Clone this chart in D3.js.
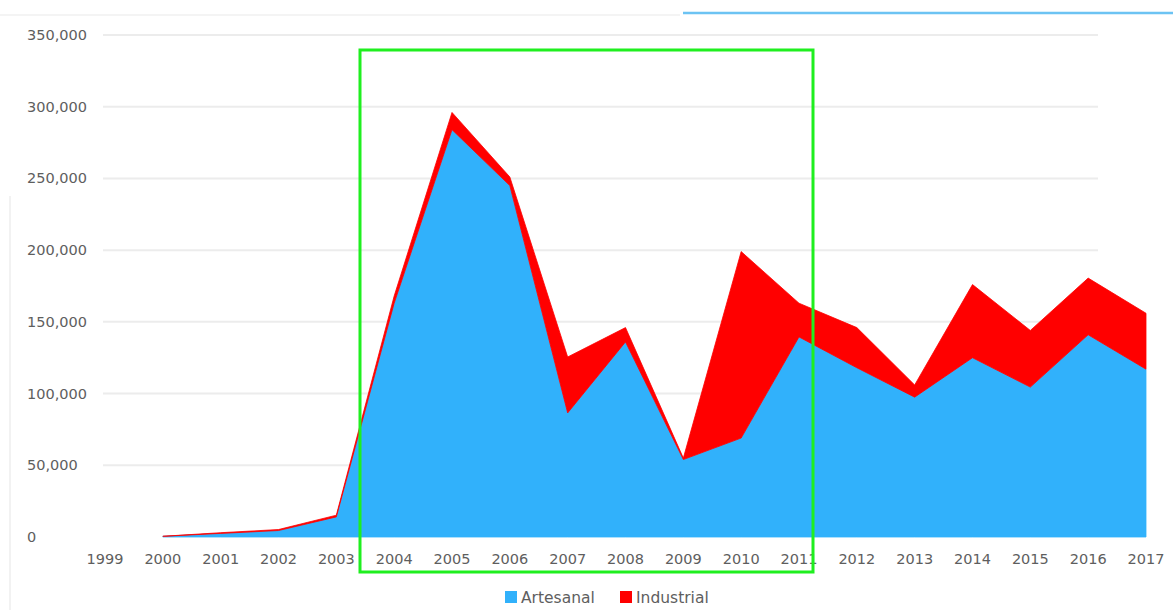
<!DOCTYPE html>
<html>
<head>
<meta charset="utf-8">
<script src="https://cdn.jsdelivr.net/npm/d3@7"></script>
<style>
  html, body { margin: 0; padding: 0; background: #fff; }
  svg { display: block; font-family: "DejaVu Sans", Arial, sans-serif; }
</style>
</head>
<body>
<svg id="svg" width="1173" height="610"></svg>
<script>
/**
 * DATA
 */
var years = [2000, 2001, 2002, 2003, 2004, 2005, 2006, 2007, 2008, 2009, 2010, 2011, 2012, 2013, 2014, 2015, 2016, 2017];
var artesanal = [500, 2500, 4500, 14000, 163000, 284000, 245000, 86500, 136000, 54000, 69000, 139500, 118000, 97500, 125000, 104500, 141000, 117000];
var industrial = [0, 500, 700, 1200, 5000, 12000, 6000, 39000, 10000, 1000, 130000, 23500, 28000, 8500, 51000, 39500, 39500, 39000];
var tickYears = d3.range(1999, 2018);
var yTicks = [0, 50000, 100000, 150000, 200000, 250000, 300000, 350000];
var seriesNames = ["Artesanal", "Industrial"];
var seriesColors = ["#31b1fb", "#ff0000"];

var svg = d3.select("#svg");

// scales
var x = d3.scaleLinear().domain([1999, 2017]).range([105, 1146]);
var y = d3.scaleLinear().domain([0, 350000]).range([537, 35]);

// screenshot leftovers: faint frame + blue strip at top
svg.append("line").attr("x1", 0).attr("x2", 680).attr("y1", 15).attr("y2", 15)
    .attr("stroke", "#f4f4f4").attr("stroke-width", 2);
svg.append("line").attr("x1", 10).attr("x2", 10).attr("y1", 196).attr("y2", 610)
    .attr("stroke", "#f2f2f2").attr("stroke-width", 2);
svg.append("line").attr("x1", 683).attr("x2", 1173).attr("y1", 13).attr("y2", 13)
    .attr("stroke", "#6cc3f3").attr("stroke-width", 2.5);

// grid
svg.append("g").selectAll("line")
    .data(yTicks.filter(function(d) { return d > 0; }))
    .join("line")
    .attr("x1", 103).attr("x2", 1098)
    .attr("y1", function(d) { return y(d); })
    .attr("y2", function(d) { return y(d); })
    .attr("stroke", "#ececec").attr("stroke-width", 2);

// y labels (left aligned)
svg.append("g").selectAll("text")
    .data(yTicks)
    .join("text")
    .attr("x", 27)
    .attr("y", function(d) { return y(d) + 5; })
    .attr("font-size", 14.5)
    .attr("fill", "#5e5e5e")
    .text(function(d) { return d3.format(",")(d); });

// stacked areas
var rows = years.map(function(yr, i) {
    return { year: yr, Artesanal: artesanal[i], Industrial: industrial[i] };
});
var stack = d3.stack().keys(seriesNames)(rows);
var area = d3.area()
    .x(function(d) { return x(d.data.year); })
    .y0(function(d) { return y(d[0]); })
    .y1(function(d) { return y(d[1]); });

svg.append("g").selectAll("path")
    .data(stack)
    .join("path")
    .attr("d", area)
    .attr("fill", function(d, i) { return seriesColors[i]; })
    .attr("stroke", function(d, i) { return seriesColors[i]; })
    .attr("stroke-width", 0.8);

// x labels
svg.append("g").selectAll("text")
    .data(tickYears)
    .join("text")
    .attr("x", function(d) { return x(d); })
    .attr("y", 564)
    .attr("text-anchor", "middle")
    .attr("font-size", 14.5)
    .attr("fill", "#5e5e5e")
    .text(function(d) { return d; });

// legend
var legend = svg.append("g").attr("transform", "translate(505,591)");
var lx = [0, 115];
seriesNames.forEach(function(name, i) {
    legend.append("rect").attr("x", lx[i]).attr("y", 0).attr("width", 12).attr("height", 12)
        .attr("fill", seriesColors[i]);
    legend.append("text").attr("x", lx[i] + 16).attr("y", 12)
        .attr("font-size", 15.5).attr("fill", "#5e5e5e")
        .text(name);
});

// green highlight box
svg.append("rect")
    .attr("x", 360).attr("y", 50).attr("width", 453).attr("height", 522)
    .attr("fill", "none").attr("stroke", "#1fef1f").attr("stroke-width", 3);
</script>
</body>
</html>
